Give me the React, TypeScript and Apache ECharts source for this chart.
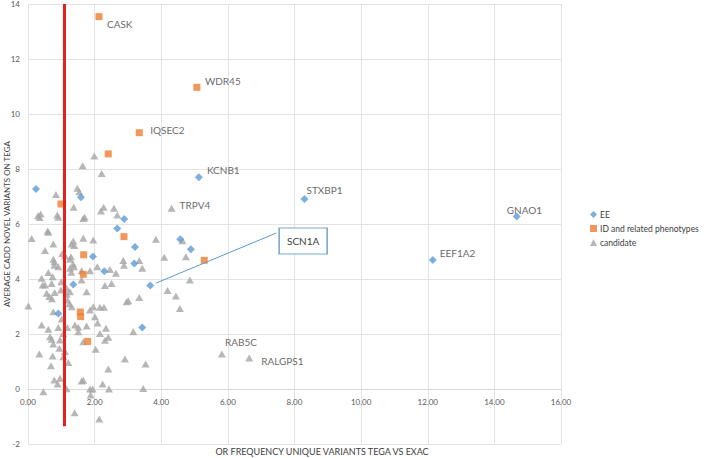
import React, { useEffect, useRef } from "react";
import * as echarts from "echarts";

// [x, y, label?]
const eePoints: (number | string)[][] = [
  [0.24, 7.27], [1.59, 6.97], [2.89, 6.18], [2.68, 5.84], [4.57, 5.45], [4.89, 5.08],
  [3.21, 5.16], [1.95, 4.82], [3.19, 4.56], [2.29, 4.28], [1.36, 3.8], [3.67, 3.76, "SCN1A"],
  [0.91, 2.75], [3.43, 2.24], [5.13, 7.7, "KCNB1"], [8.3, 6.91, "STXBP1"],
  [14.67, 6.27, "GNAO1"], [12.15, 4.69, "EEF1A2"],
];

const idPoints: (number | string)[][] = [
  [2.13, 13.54, "CASK"], [5.07, 10.97, "WDR45"], [3.34, 9.32, "IQSEC2"], [2.41, 8.55],
  [0.99, 6.73], [2.88, 5.54], [1.67, 4.88], [1.66, 4.17], [5.29, 4.68], [1.57, 2.8],
  [1.58, 2.63], [1.79, 1.73],
];

const candidatePoints: (number | string)[][] = [
  [1.99, 8.47], [1.64, 8.12], [2.21, 7.84], [1.48, 7.3], [1.54, 7.17], [0.84, 7.07],
  [1.37, 6.61], [2.27, 6.61], [2.19, 6.47], [2.58, 6.57], [2.68, 6.33], [0.3, 6.3],
  [0.38, 6.36], [0.35, 6.24], [0.88, 6.33], [0.91, 6.25], [1.66, 6.2], [1.7, 6.25],
  [4.31, 6.57, "TRPV4"], [0.59, 5.75], [0.61, 5.7],
  [0.11, 5.47], [1.66, 5.48], [1.96, 5.42], [3.84, 5.45], [4.64, 5.39], [0.76, 5.27],
  [1.31, 5.27], [1.36, 5.38], [1.39, 5.22], [0.51, 5.04], [1.03, 4.93], [1.11, 4.85],
  [0.79, 4.63], [0.76, 4.72], [1.29, 4.81], [1.26, 4.72], [1.35, 4.55], [0.79, 4.5],
  [0.91, 4.45], [0.61, 4.24], [1.26, 4.39], [1.38, 4.45], [1.3, 4.25], [1.61, 4.3],
  [1.86, 4.3], [2.08, 4.45], [2.46, 4.35], [2.64, 4.21], [2.86, 4.67], [2.88, 4.5],
  [3.34, 4.67], [3.43, 4.39], [4.09, 4.79], [4.74, 4.81], [4.86, 3.96], [0.41, 4.03],
  [0.74, 4.08], [1.0, 3.9], [0.51, 3.78], [0.71, 3.84], [0.44, 3.78], [1.61, 3.96],
  [1.16, 3.66], [2.31, 3.76], [2.51, 3.84],
  [0.56, 3.48], [0.64, 3.36], [0.8, 3.51], [0.99, 3.6], [1.26, 3.54], [1.16, 3.45],
  [1.76, 3.54], [4.19, 3.58], [4.44, 3.38], [3.34, 3.33], [3.01, 3.21], [4.56, 2.93],
  [1.19, 3.24], [0.72, 3.28], [1.31, 2.99], [1.24, 3.1], [0.01, 3.02], [0.76, 2.81],
  [1.86, 2.87], [1.96, 2.99], [2.16, 2.97], [2.28, 2.97], [1.01, 2.55], [2.01, 2.63],
  [2.09, 2.4], [0.41, 2.33], [0.91, 2.24], [1.41, 2.33], [1.51, 2.25], [1.76, 2.29],
  [2.34, 2.21], [1.51, 2.08], [0.61, 2.17], [3.16, 2.08], [1.18, 2.24], [2.96, 3.17],
  [0.66, 1.9], [0.71, 1.81], [1.06, 2.02], [2.16, 2.02], [2.41, 1.88], [2.31, 1.77],
  [0.76, 1.64], [0.94, 1.48], [1.66, 1.72], [0.96, 1.78], [1.11, 1.36], [1.06, 1.17],
  [0.34, 1.27], [0.74, 1.2], [2.03, 1.45], [2.91, 1.09], [3.53, 0.91], [1.21, 0.96],
  [0.69, 0.85], [2.41, 0.73], [0.79, 0.33], [0.96, 0.39], [0.89, 0.18], [1.61, 0.29],
  [1.66, 0.32], [2.24, 0.18], [0.46, -0.1], [1.16, 0.01], [1.86, 0.0], [1.94, 0.0],
  [1.88, -0.22], [2.43, 0.0], [3.46, 0.02], [1.4, -0.86], [2.14, -1.09],
  [5.82, 1.27, "RAB5C"], [6.64, 1.13, "RALGPS1"],
];

const xTicks = { min: 0, max: 16, interval: 2 };
const yTicks = { min: -2, max: 14, interval: 2 };
const thresholdX = 1.1;
const thresholdYRange = [14, -1.35];

const xTitle = "OR FREQUENCY UNIQUE VARIANTS TEGA VS EXAC";
const yTitle = "AVERAGE CADD NOVEL VARIANTS ON TEGA";
const seriesNames = ["EE", "ID and related phenotypes", "candidate"];

// label offsets (style): [dx from point to text start, dy from point to text center]
const labelOffsets: Record<string, [number, number]> = {
  CASK: [8, 7],
  WDR45: [8, -6],
  IQSEC2: [11, -3],
  KCNB1: [8, -7],
  TRPV4: [8, -4],
  STXBP1: [2, -9],
  GNAO1: [-10, -7],
  EEF1A2: [7, -7],
  RAB5C: [3, -13],
  RALGPS1: [12, 3],
};

// callout annotation for SCN1A (in data units)
const calloutBox = [8.26, 5.38];
const calloutLine = [[3.84, 3.85], [7.45, 5.67]];

const FONT = "Lato, 'Noto Sans', sans-serif";
const TEXT = "#404040";

function toData(points: (number | string)[][], size: number) {
  return points.map((p) => {
    const name = p[2] as string | undefined;
    if (name && labelOffsets[name]) {
      const [dx, dy] = labelOffsets[name];
      return {
        value: [p[0], p[1]],
        label: {
          show: true,
          formatter: name,
          position: [size / 2 + dx, size / 2 + dy],
          align: "left",
          verticalAlign: "middle",
          color: TEXT,
          fontSize: 10,
          fontFamily: FONT,
        },
      };
    }
    return { value: [p[0], p[1]] };
  });
}

export default function App() {
  const ref = useRef<HTMLDivElement>(null);
  useEffect(() => {
    if (!ref.current) return;
    const chart = echarts.init(ref.current, undefined, { renderer: "svg" });
    const gridTop = 4;
    const gridBottom = 14;
    const plotH = 458 - gridTop - gridBottom;
    const zeroOffset = (plotH * (0 - yTicks.min)) / (yTicks.max - yTicks.min);
    chart.setOption({
      animation: false,
      backgroundColor: "#ffffff",
      grid: {
        left: 28,
        right: 148,
        top: gridTop,
        bottom: gridBottom,
        containLabel: false,
        outerBoundsMode: "none",
      },
      xAxis: {
        type: "value",
        min: xTicks.min,
        max: xTicks.max,
        interval: xTicks.interval,
        offset: -zeroOffset,
        axisLine: { show: true, onZero: false, lineStyle: { color: "#d9d9d9" } },
        axisTick: { show: false },
        axisLabel: {
          formatter: (v: number) => v.toFixed(2),
          color: "#595959",
          fontSize: 8,
          fontFamily: FONT,
          margin: 9,
          showMinLabel: true,
          showMaxLabel: true,
        },
        splitLine: { show: true, lineStyle: { color: "#e3e3e3", width: 1 } },
      },
      yAxis: {
        type: "value",
        min: yTicks.min,
        max: yTicks.max,
        interval: yTicks.interval,
        name: yTitle,
        nameLocation: "middle",
        nameRotate: 90,
        nameGap: 17,
        nameMoveOverlap: false,
        nameTextStyle: { color: TEXT, fontSize: 8, fontFamily: FONT },
        axisLine: { show: false, onZero: false },
        axisTick: { show: false },
        axisLabel: {
          color: "#595959",
          fontSize: 8,
          fontFamily: FONT,
          margin: 8,
          showMinLabel: true,
          showMaxLabel: true,
          verticalAlign: "middle",
        },
        splitLine: { show: true, lineStyle: { color: "#e3e3e3", width: 1 } },
      },
      legend: {
        orient: "vertical",
        left: 585,
        top: 205,
        itemWidth: 7,
        itemHeight: 7,
        itemGap: 5,
        textStyle: { color: TEXT, fontSize: 8.5, fontFamily: FONT, padding: [0, 0, 0, -2] },
        data: seriesNames,
      },
      graphic: [
        {
          type: "text",
          x: 322,
          y: 451,
          style: {
            text: xTitle,
            fill: TEXT,
            fontSize: 9,
            fontFamily: FONT,
            align: "center",
            verticalAlign: "middle",
          },
        },
      ],
      series: [
        {
          name: seriesNames[2],
          type: "scatter",
          symbol: "triangle",
          symbolSize: [8, 7],
          itemStyle: { color: "#A5A5A5" },
          data: toData(candidatePoints, 8),
          z: 2,
        },
        {
          name: seriesNames[1],
          type: "scatter",
          symbol: "rect",
          symbolSize: 7,
          itemStyle: { color: "#ED7D31" },
          data: toData(idPoints, 7),
          z: 3,
        },
        {
          name: seriesNames[0],
          type: "scatter",
          symbol: "diamond",
          symbolSize: 8,
          itemStyle: { color: "#5B9BD5" },
          data: toData(eePoints, 8),
          z: 4,
          markLine: {
            silent: true,
            symbol: ["none", "none"],
            label: { show: false },
            data: [
              [
                { coord: calloutLine[0], lineStyle: { color: "#5B9BD5", width: 1, type: "solid" } },
                { coord: calloutLine[1] },
              ],
              [
                { coord: [thresholdX, thresholdYRange[0]], lineStyle: { color: "#E3221F", width: 3, type: "solid" } },
                { coord: [thresholdX, thresholdYRange[1]] },
              ],
            ],
          },
          markPoint: {
            silent: true,
            data: [
              {
                coord: calloutBox,
                symbol: "rect",
                symbolSize: [48, 26],
                itemStyle: { color: "#ffffff", borderColor: "#7FA9CB", borderWidth: 1.2 },
                label: {
                  show: true,
                  position: "inside",
                  formatter: "SCN1A",
                  color: TEXT,
                  fontSize: 10,
                  fontFamily: FONT,
                },
              },
            ],
          },
        },
      ],
    });
    return () => chart.dispose();
  }, []);
  return (
    <div
      ref={ref}
      style={{ position: "absolute", left: 0, top: 0, width: 709, height: 458 }}
    />
  );
}
